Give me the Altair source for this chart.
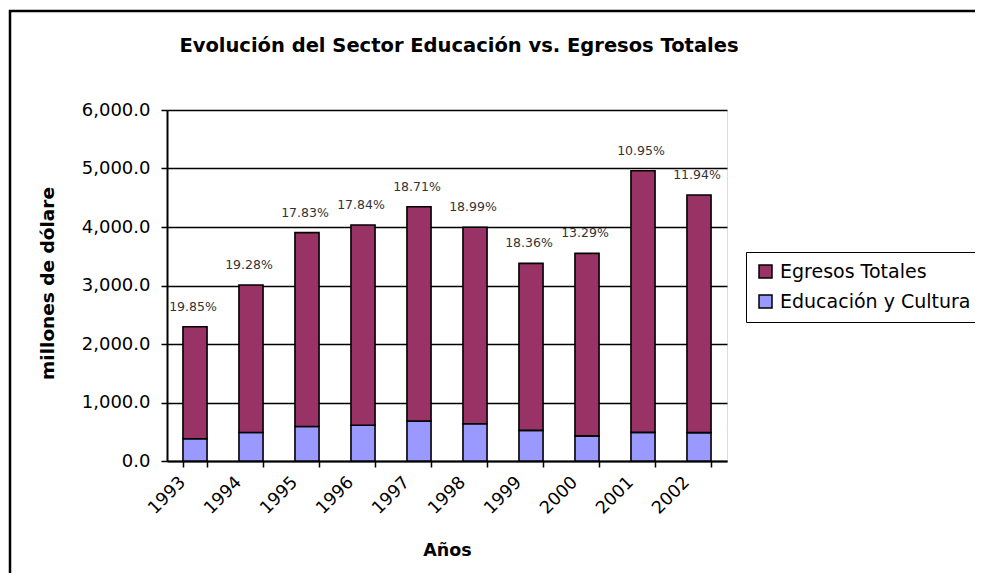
import altair as alt
import pandas as pd

years = ["1993", "1994", "1995", "1996", "1997", "1998", "1999", "2000", "2001", "2002"]
egresos = [1916, 2523, 3312, 3423, 3662, 3357, 2855, 3120, 4472, 4062]
educacion = [380, 486, 591, 611, 685, 638, 524, 430, 490, 485]
pct_labels = ["19.85%", "19.28%", "17.83%", "17.84%", "18.71%", "18.99%", "18.36%", "13.29%", "10.95%", "11.94%"]
series_names = ["Egresos Totales", "Educación y Cultura"]
series_colors = ["#993366", "#9999FF"]

rows = []
for y, e, d in zip(years, egresos, educacion):
    rows.append({"Año": y, "Serie": "Educación y Cultura", "Valor": d, "ord": 0})
    rows.append({"Año": y, "Serie": "Egresos Totales", "Valor": e, "ord": 1})
df = pd.DataFrame(rows)

lab = pd.DataFrame({
    "Año": years,
    "Total": [e + d for e, d in zip(egresos, educacion)],
    "Etiqueta": pct_labels,
})

FONT = "DejaVu Sans"

x_enc = alt.X(
    "Año:N",
    sort=years,
    scale=alt.Scale(paddingInner=0.57, paddingOuter=0.285),
    axis=alt.Axis(
        title="Años",
        titleFont=FONT, titleFontSize=17.5, titleFontWeight="bold", titleColor="black",
        titleY=94, titleBaseline="alphabetic",
        labelFont=FONT, labelFontSize=17.5, labelColor="black",
        labelAngle=315, labelAlign="right", labelBaseline="top",
        labelOffset=-19, labelPadding=6,
        tickBand="extent", ticks=True, tickSize=6, tickColor="black", tickWidth=1.5,
        domainColor="black", domainWidth=2, grid=False,
    ),
)

bars = alt.Chart(df).mark_bar(stroke="black", strokeWidth=1.6).encode(
    x=x_enc,
    y=alt.Y(
        "Valor:Q",
        stack="zero",
        scale=alt.Scale(domain=[0, 6000], nice=False),
        axis=alt.Axis(
            title="millones de dólare",
            titleFont=FONT, titleFontSize=18.5, titleFontWeight="bold", titleColor="black",
            titleAngle=270, titleX=-114, titleY=173, titleAlign="center", titleBaseline="alphabetic",
            values=[0, 1000, 2000, 3000, 4000, 5000, 6000], format=",.1f",
            labelFont=FONT, labelFontSize=18, labelColor="black", labelPadding=11,
            tickSize=6, tickColor="black", tickWidth=1.5,
            domainColor="black", domainWidth=2,
            grid=True, gridColor="black", gridWidth=1.6,
        ),
    ),
    color=alt.Color(
        "Serie:N",
        scale=alt.Scale(domain=series_names, range=series_colors),
        legend=alt.Legend(
            title=None, orient="none", legendX=579, legendY=142,
            symbolType="square", symbolSize=169, symbolStrokeColor="black", symbolStrokeWidth=1.5,
            labelFont=FONT, labelFontSize=19, labelColor="black", labelOffset=5, labelLimit=0,
            rowPadding=10, padding=10, strokeColor="black", fillColor="white",
        ),
    ),
    order=alt.Order("ord:Q", sort="ascending"),
)

texts = alt.Chart(lab).mark_text(
    font=FONT, fontSize=12.5, color="#333333", baseline="middle", align="center", dy=-20, dx=-2
).encode(
    x=alt.X("Año:N", sort=years),
    y=alt.Y("Total:Q"),
    text="Etiqueta:N",
)

frame = alt.Chart(pd.DataFrame({"k": [0]})).mark_rect(
    fill=None, stroke="black", strokeWidth=2.5
).encode(
    x=alt.value(-157), x2=alt.value(1200), y=alt.value(-99), y2=alt.value(900)
)

chart = alt.layer(bars, texts, frame).properties(
    width=560,
    height=351,
    autosize=alt.AutoSizeParams(type="none"),
    padding={"left": 159, "top": 102, "right": 248, "bottom": 112},
    title=alt.TitleParams(
        "Evolución del Sector Educación vs. Egresos Totales",
        font=FONT, fontSize=19.5, fontWeight="bold", color="black",
        anchor="middle", frame="group", dx=12, offset=0, dy=62, baseline="alphabetic",
    ),
).configure_view(
    fill="#C0C0C0", stroke="#808080", strokeWidth=2
).configure_legend(
    strokeWidth=2
).configure(background="white")

chart.save("out.html", embed_options={"renderer": "svg", "actions": False})
